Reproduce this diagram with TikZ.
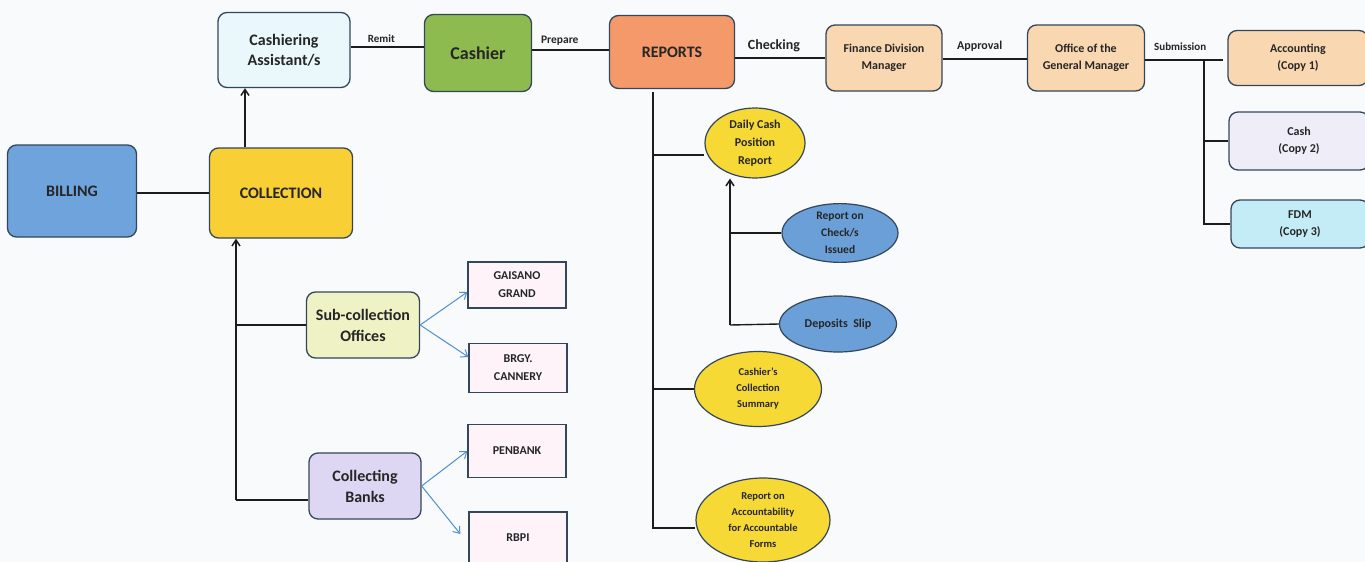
\documentclass[tikz,border=0pt]{standalone}
\usepackage{fontspec}
\setmainfont{Carlito}
\usetikzlibrary{arrows.meta,shapes.geometric}

\definecolor{edgec}{HTML}{34465A}
\definecolor{bgc}{HTML}{F8FAFC}
\definecolor{billc}{HTML}{6FA3DC}
\definecolor{collc}{HTML}{F8CF34}
\definecolor{assc}{HTML}{EAF8FC}
\definecolor{cashc}{HTML}{8DBB4F}
\definecolor{repc}{HTML}{F4996A}
\definecolor{peachc}{HTML}{F9D7B0}
\definecolor{copytwoc}{HTML}{EFEDF8}
\definecolor{fdmc}{HTML}{C4ECF6}
\definecolor{subc}{HTML}{EEF2C4}
\definecolor{bankc}{HTML}{DDD7F4}
\definecolor{pinkc}{HTML}{FDF3F8}
\definecolor{ellyc}{HTML}{F7D935}
\definecolor{ellbc}{HTML}{6B9FD8}
\definecolor{bluearr}{HTML}{4F8FD0}
\definecolor{linec}{HTML}{1C1C1C}

\tikzset{
  rbox/.style={draw=edgec, line width=1.3pt, rounded corners=9pt, align=center,
    font=\bfseries, text=black!85, inner sep=2pt},
  sbox/.style={draw=edgec, line width=1.3pt, align=center, fill=pinkc,
    font=\bfseries\fontsize{12}{18}\selectfont, text=black!85,
    minimum width=98pt, inner sep=2pt},
  ell/.style={ellipse, draw=edgec, line width=1.2pt, align=center,
    font=\bfseries\fontsize{10.5}{16}\selectfont, text=black!85, inner sep=0pt},
  conn/.style={draw=linec, line width=1.6pt},
  up/.style={conn, -{Straight Barb[length=6pt,width=8pt,line width=1.5pt]}},
  barr/.style={draw=bluearr, line width=1pt, -{Straight Barb[length=6pt,width=9pt]}},
  lbl/.style={font=\bfseries, text=black!85, inner sep=1pt}
}

\begin{document}
\begin{tikzpicture}[x=1pt,y=-1pt]
\fill[bgc] (0,0) rectangle (1365,562);
\useasboundingbox (0,0) rectangle (1365,562);

% main chain
\node[rbox, fill=billc, minimum width=129pt, minimum height=92pt,
  font=\bfseries\fontsize{16}{18}\selectfont] (bill) at (72,191) {BILLING};
\node[rbox, fill=collc, minimum width=143pt, minimum height=90pt,
  font=\bfseries\fontsize{16}{18}\selectfont] (coll) at (281,193) {COLLECTION};
\node[rbox, fill=assc, minimum width=132pt, minimum height=75pt,
  font=\bfseries\fontsize{16}{20}\selectfont] (ass) at (284,50) {Cashiering\\Assistant/s};
\node[rbox, fill=cashc, minimum width=107pt, minimum height=77pt,
  font=\bfseries\fontsize{18}{20}\selectfont] (cashier) at (478,53) {Cashier};
\node[rbox, fill=repc, minimum width=125pt, minimum height=73pt,
  font=\bfseries\fontsize{16}{18}\selectfont] (rep) at (672,52) {REPORTS};
\node[rbox, fill=peachc, minimum width=116pt, minimum height=66pt,
  font=\bfseries\fontsize{12}{17}\selectfont] (fdmgr) at (884,58) {Finance Division\\Manager};
\node[rbox, fill=peachc, minimum width=117pt, minimum height=66pt,
  font=\bfseries\fontsize{12}{17}\selectfont] (ogm) at (1086,58) {Office of the\\General Manager};

% copies
\node[rbox, fill=peachc, minimum width=140pt, minimum height=55pt,
  font=\bfseries\fontsize{12}{17}\selectfont] (acc) at (1298,58) {Accounting\\(Copy 1)};
\node[rbox, fill=copytwoc, minimum width=140pt, minimum height=58pt,
  font=\bfseries\fontsize{12}{17}\selectfont] (cash2) at (1299,141) {Cash\\(Copy 2)};
\node[rbox, fill=fdmc, minimum width=138pt, minimum height=48pt,
  font=\bfseries\fontsize{12}{17}\selectfont] (fdm) at (1300,224) {FDM\\(Copy 3)};

% collection sources
\node[rbox, fill=subc, minimum width=113pt, minimum height=66pt,
  font=\bfseries\fontsize{16}{21}\selectfont] (sub) at (363,325) {Sub-collection\\Offices};
\node[rbox, fill=bankc, minimum width=112pt, minimum height=66pt,
  font=\bfseries\fontsize{16}{21}\selectfont] (banks) at (365,486) {Collecting\\Banks};
\node[sbox, minimum height=46pt] (gais) at (517,285) {GAISANO\\GRAND};
\node[sbox, minimum height=49pt] (brgy) at (518,368) {BRGY.\\CANNERY};
\node[sbox, minimum height=53pt] (pen) at (517,451) {PENBANK};
\node[sbox, minimum height=52pt] (rbpi) at (518,538) {RBPI};

% report documents
\node[ell, fill=ellyc, minimum width=100pt, minimum height=70pt,
  font=\bfseries\fontsize{12}{18}\selectfont] (daily) at (755,143)
  {Daily Cash\\Position\\Report};
\node[ell, fill=ellbc, minimum width=116pt, minimum height=53pt,
  font=\bfseries\fontsize{11.5}{17}\selectfont] (check) at (840,233)
  {Report on\\Check/s\\Issued};
\node[ell, fill=ellbc, minimum width=117pt, minimum height=56pt,
  font=\bfseries\fontsize{12}{14}\selectfont] (dep) at (838,324) {Deposits\ \ Slip};
\node[ell, fill=ellyc, minimum width=127pt, minimum height=75pt] (summ) at (758,389)
  {Cashier's\\Collection\\Summary};
\node[ell, fill=ellyc, minimum width=134pt, minimum height=84pt] (accf) at (763,520)
  {Report on\\Accountability\\for Accountable\\Forms};

% top chain connectors
\draw[conn] (bill.east |- coll.west) -- (coll.west);
\draw[conn] (ass.east |- 0,47) -- (cashier.west |- 0,47)
  node[lbl, pos=0.42, above=3pt, font=\bfseries\fontsize{11}{12}\selectfont] {Remit};
\draw[conn] (cashier.east |- 0,50) -- (rep.west |- 0,50)
  node[lbl, pos=0.36, above=3pt, font=\bfseries\fontsize{11.5}{12}\selectfont] {Prepare};
\draw[conn] (rep.east |- 0,58) -- (fdmgr.west |- 0,58)
  node[lbl, pos=0.43, above=4pt, font=\bfseries\fontsize{14}{15}\selectfont] {Checking};
\draw[conn] (fdmgr.east |- 0,59) -- (ogm.west |- 0,59)
  node[lbl, pos=0.44, above=6pt, font=\bfseries\fontsize{12}{13}\selectfont] {Approval};

% submission to copies
\coordinate (sj) at (1204,60);
\coordinate (sa) at (1223,60);
\draw[conn] (ogm.east |- sj) -- (sa)
  node[lbl, pos=0.45, above=8pt, font=\bfseries\fontsize{11}{12}\selectfont] {Submission};
\draw[conn, line width=1.3pt] (sj) -- (sj |- fdm.west) -- (fdm.west);
\draw[conn, line width=1.3pt] (sj |- cash2.west) -- (cash2.west);

% collection flow
\draw[up] (coll.north -| 245,0) -- (ass.south -| 245,0);
\coordinate (cb) at (236,500);
\draw[up] (cb) -- (coll.south -| cb);
\draw[conn] (cb) -- (banks.west |- cb);
\draw[conn, line width=1.3pt] (cb |- sub.west) -- (sub.west);
\draw[barr] (sub.east) -- (gais.west |- 0,292);
\draw[barr] (sub.east) -- (brgy.west |- 0,357);
\draw[barr] (banks.east) -- (pen.west);
\draw[barr] (banks.east) -- ([xshift=-8pt]rbpi.west |- 0,534);

% reports flow
\coordinate (rt) at (653,92);
\coordinate (rb) at (653,528);
\draw[conn, line width=1.4pt] (rt) -- (rb) -- (accf.west |- rb);
\draw[conn, line width=1.4pt] (rt |- 0,155) -- (daily.west |- 0,155);
\draw[conn, line width=1.4pt] (rt |- summ.west) -- (summ.west);
\coordinate (dj) at (730,325);
\draw[up, line width=1.4pt] (dj) -- (daily.south -| dj);
\draw[conn, line width=1.4pt] (dj) -- (dep.west);
\draw[conn, line width=1.4pt] (dj |- check.west) -- (check.west);
\end{tikzpicture}
\end{document}
